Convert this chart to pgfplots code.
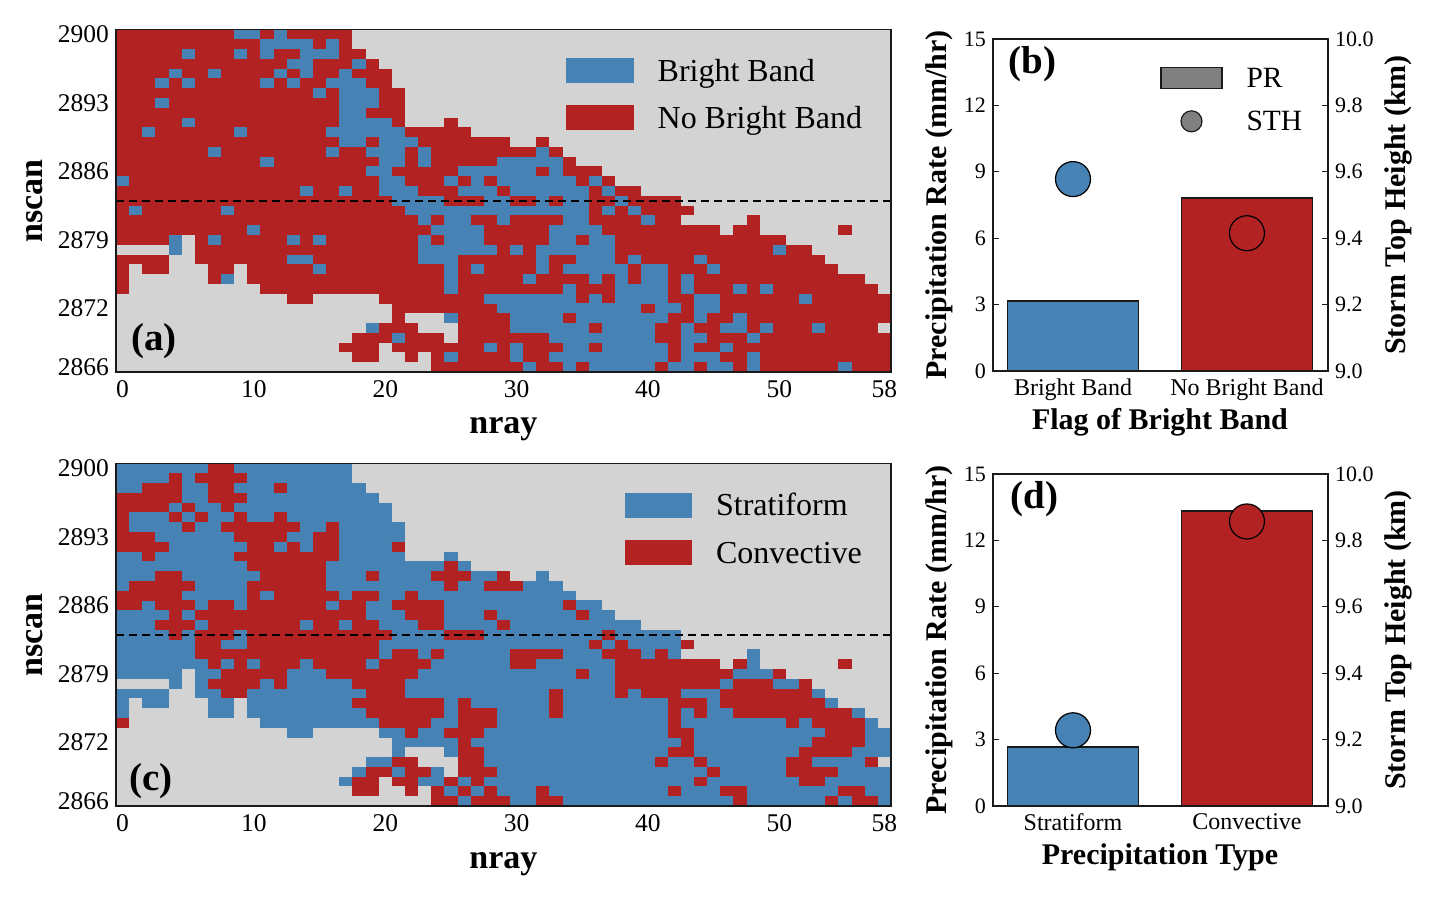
\documentclass[border=0pt]{standalone}
\usepackage{fontspec}
\usepackage{pgfplots}
\usepackage{pgfplotstable}
\pgfplotsset{compat=1.18}
\setmainfont{Liberation Serif}
\definecolor{sb}{HTML}{4682B4}
\definecolor{fb}{HTML}{B22222}
\definecolor{lg}{HTML}{D3D3D3}
\definecolor{fr}{HTML}{1A1A1A}
\newcommand{\fs}[1]{\fontsize{#1}{#1}\selectfont}
% runs of cells: first nray, nscan, number of cells
\pgfplotstableread{
a y n
0 2900 18
0 2899 18
0 2898 19
0 2897 20
0 2896 21
0 2895 21
0 2894 22
0 2893 22
0 2892 22
0 2891 22
25 2891 1
0 2890 27
0 2889 30
32 2889 1
0 2888 34
0 2887 35
0 2886 37
0 2885 38
0 2884 40
0 2883 43
0 2882 44
0 2881 43
48 2881 1
0 2880 46
47 2880 2
55 2880 1
0 2879 5
6 2879 45
4 2878 1
6 2878 47
0 2877 4
6 2877 48
0 2876 1
2 2876 2
7 2876 2
10 2876 45
0 2875 1
7 2875 2
10 2875 47
0 2874 1
11 2874 47
13 2873 2
20 2873 39
21 2872 38
21 2871 1
25 2871 34
19 2870 4
26 2870 32
18 2869 7
26 2869 33
17 2868 3
21 2868 38
18 2867 2
22 2867 1
24 2867 35
24 2866 35
}\cov
\pgfplotstableread{
a y n
9 2900 2
12 2900 1
11 2899 4
16 2899 1
5 2898 1
9 2898 1
11 2898 1
14 2898 3
13 2897 2
18 2897 1
4 2896 1
7 2896 1
12 2896 1
14 2896 1
17 2896 1
3 2895 1
5 2895 1
11 2895 1
13 2895 1
16 2895 3
15 2894 1
17 2894 3
3 2893 1
17 2893 3
17 2892 2
5 2891 1
17 2891 4
2 2890 1
9 2890 1
16 2890 6
17 2889 2
20 2889 3
7 2888 1
16 2888 1
19 2888 3
23 2888 1
32 2888 1
11 2887 1
20 2887 2
23 2887 1
29 2887 5
19 2886 2
26 2886 6
33 2886 1
0 2885 1
20 2885 2
25 2885 1
27 2885 1
29 2885 6
36 2885 1
14 2884 1
17 2884 1
20 2884 3
26 2884 3
30 2884 6
37 2884 1
21 2883 4
28 2883 2
32 2883 1
34 2883 2
38 2883 1
1 2882 1
8 2882 1
22 2882 14
37 2882 1
39 2882 1
23 2881 1
25 2881 2
29 2881 1
34 2881 2
40 2881 1
10 2880 1
24 2880 4
33 2880 4
4 2879 1
7 2879 1
13 2879 1
15 2879 1
23 2879 1
25 2879 3
33 2879 2
36 2879 2
4 2878 1
23 2878 6
30 2878 1
32 2878 6
50 2878 1
13 2877 2
23 2877 3
32 2877 1
35 2877 3
39 2877 1
44 2877 1
15 2876 1
25 2876 1
27 2876 1
32 2876 1
34 2876 5
40 2876 2
45 2876 1
8 2875 1
25 2875 1
31 2875 1
36 2875 1
38 2875 1
40 2875 2
43 2875 1
25 2874 1
34 2874 1
38 2874 4
43 2874 1
47 2874 1
49 2874 1
28 2873 7
36 2873 1
38 2873 4
44 2873 2
52 2873 1
29 2872 11
41 2872 2
44 2872 2
25 2871 1
30 2871 4
35 2871 7
44 2871 1
47 2871 1
19 2870 1
30 2870 6
37 2870 4
43 2870 1
46 2870 2
49 2870 1
53 2870 1
21 2869 1
33 2869 8
43 2869 2
48 2869 1
28 2868 1
30 2868 1
34 2868 2
37 2868 5
43 2868 1
46 2868 1
25 2867 1
30 2867 1
33 2867 9
43 2867 3
48 2867 1
31 2866 1
34 2866 1
36 2866 5
42 2866 2
45 2866 2
48 2866 1
55 2866 1
}\bbrun
\pgfplotstableread{
a y n
7 2900 2
4 2899 1
6 2899 4
2 2898 3
7 2898 2
12 2898 1
0 2897 5
7 2897 3
0 2896 4
5 2896 1
8 2896 1
0 2895 1
4 2895 1
6 2895 1
9 2895 1
12 2895 1
0 2894 1
5 2894 1
8 2894 6
16 2894 1
0 2893 3
9 2893 4
15 2893 2
0 2892 4
10 2892 2
13 2892 1
15 2892 2
21 2892 1
2 2891 1
9 2891 8
10 2890 6
25 2890 1
3 2889 2
11 2889 5
19 2889 1
24 2889 3
29 2889 1
1 2888 5
10 2888 6
25 2888 1
28 2888 3
0 2887 5
10 2887 1
12 2887 5
18 2887 2
22 2887 1
0 2886 2
3 2886 3
7 2886 2
10 2886 6
17 2886 2
21 2886 4
34 2886 1
4 2885 1
6 2885 13
22 2885 3
28 2885 1
35 2885 1
3 2884 3
7 2884 7
15 2884 2
18 2884 2
23 2884 2
29 2884 1
4 2883 1
6 2883 3
10 2883 11
25 2883 3
37 2883 1
6 2882 2
10 2882 10
36 2882 1
38 2882 1
43 2882 1
6 2881 14
21 2881 2
24 2881 1
30 2881 4
37 2881 3
41 2881 1
7 2880 1
9 2880 1
11 2880 3
15 2880 4
20 2880 4
30 2880 2
38 2880 8
47 2880 1
55 2880 1
8 2879 5
16 2879 7
35 2879 1
38 2879 9
50 2879 1
7 2878 4
12 2878 1
18 2878 4
38 2878 8
47 2878 3
52 2878 1
8 2877 2
19 2877 3
33 2877 1
38 2877 1
40 2877 3
46 2877 7
18 2876 7
26 2876 1
33 2876 1
42 2876 3
46 2876 8
19 2875 6
26 2875 3
33 2875 1
42 2875 1
44 2875 1
47 2875 9
0 2874 1
20 2874 4
26 2874 3
42 2874 1
51 2874 1
53 2874 4
22 2873 1
25 2873 3
42 2873 2
54 2873 3
26 2872 1
43 2872 1
53 2872 4
26 2871 2
42 2871 2
52 2871 4
21 2870 2
26 2870 2
41 2870 1
44 2870 1
51 2870 2
57 2870 1
19 2869 2
22 2869 2
26 2869 3
45 2869 1
51 2869 4
18 2868 2
21 2868 2
25 2868 1
27 2868 1
44 2868 1
52 2868 2
18 2867 2
22 2867 1
24 2867 1
26 2867 1
28 2867 1
32 2867 1
42 2867 1
46 2867 2
55 2867 2
24 2866 2
27 2866 3
32 2866 2
47 2866 1
54 2866 1
56 2866 2
}\crun
\pgfplotsset{
  heat/.style={scale only axis, width=387.5pt, height=171.25pt,
    xmin=-0.5, xmax=58.5, ymin=2865.5, ymax=2900.5,
    axis background/.style={fill=lg}, axis on top,
    axis line style={fr, line width=0.9pt},
    major tick length=0pt,
    xtick={0,10,20,30,40,50,58}, xticklabels={0,10,20,30,40,50,58},
    ytick={2866,2872,2879,2886,2893,2900},
    yticklabels={2866,2872,2879,2886,2893,2900},
    ticklabel style={font=\fs{12.75}},
    xticklabel style={yshift=-0.5pt},
    yticklabel style={xshift=0pt},
    xlabel={nray}, ylabel={nscan},
    label style={font=\bfseries\fs{17}},
    x label style={at={(axis description cs:0.5,-0.167)},anchor=center},
    y label style={at={(axis description cs:-0.105,0.5)},anchor=center},
    legend cell align=left,
    legend image code/.code={\fill[#1] (0,-4pt) rectangle (33.25pt,8pt);},
  },
  runs/.style={forget plot, draw=none, mark=none,
    error bars/.cd, x dir=plus, x explicit, error mark=none,
    error bar style={line width=4.95pt, draw=#1}},
  dual/.style={scale only axis, width=167.5pt, height=166pt,
    xmin=-0.46, xmax=1.466, xtick={0,1},
    tick align=inside, major tick length=3pt,
    axis line style={fr, line width=0.9pt}, tick style={fr, line width=0.6pt},
    ticklabel style={font=\fs{11}},
    label style={font=\bfseries\fs{15}},
  },
  left/.style={dual, ymin=0, ymax=15, ytick={0,3,6,9,12,15},
    yticklabels={0,3,6,9,12,15}, ytick pos=left, xtick pos=bottom,
    xticklabel style={font=\fs{12}, yshift=-0.5pt},
    x label style={at={(axis description cs:0.4985,-0.154)},anchor=center},
    ylabel={Precipitation Rate (mm/hr)},
    y label style={at={(axis description cs:-0.1595,0.5)},anchor=center},
  },
  right/.style={dual, ymin=9, ymax=10, ytick={9,9.2,9.4,9.6,9.8,10},
    yticklabels={9.0,9.2,9.4,9.6,9.8,10.0}, ytick pos=right, xtick=\empty,
    axis line style={draw=none}, axis y line*=right,
    ylabel={Storm Top Height (km)},
    y label style={at={(axis description cs:1.209,0.5)},anchor=center},
  },
  barp/.style={ybar, bar shift=0pt, bar width=0.753, draw=fr, line width=0.9pt, fill=#1},
  sth/.style={only marks, mark=*, mark size=8.75pt, mark options={fill=#1, draw=black, line width=0.6pt}},
}
\begin{document}
\begin{tikzpicture}
\useasboundingbox (0,0) rectangle (718.5pt,450pt);
% (a)
\begin{axis}[heat, at={(58pt,264pt)},
  legend style={at={(0.5806,0.9165)}, anchor=north west, draw=none, fill=none, inner sep=0pt,
    font=\fs{16}, row sep=7.75pt, column sep=12pt, nodes={inner sep=0pt, text height=11pt, text depth=4pt}}]
\addplot[runs=fb] table[x expr=\thisrow{a}-0.5, y=y, x error=n] {\cov};
\addplot[runs=sb] table[x expr=\thisrow{a}-0.5, y=y, x error=n] {\bbrun};
\addplot[forget plot, black, line width=0.9pt, dash pattern=on 4pt off 2.5pt] coordinates {(-0.5,2883) (58.5,2883)};
\addlegendimage{sb}\addlegendentry{Bright Band}
\addlegendimage{fb}\addlegendentry{No Bright Band}
\node[font=\bfseries\fs{19.5}] at (rel axis cs:0.049,0.090) {(a)};
\end{axis}
% (c)
\begin{axis}[heat, at={(58pt,47pt)},
  x label style={at={(axis description cs:0.5,-0.171)},anchor=center},
  legend style={at={(0.656,0.9165)}, anchor=north west, draw=none, fill=none, inner sep=0pt,
    font=\fs{16}, row sep=8pt, column sep=12pt, nodes={inner sep=0pt, text height=11pt, text depth=4pt}}]
\addplot[runs=sb] table[x expr=\thisrow{a}-0.5, y=y, x error=n] {\cov};
\addplot[runs=fb] table[x expr=\thisrow{a}-0.5, y=y, x error=n] {\crun};
\addplot[forget plot, black, line width=0.9pt, dash pattern=on 4pt off 2.5pt] coordinates {(-0.5,2883) (58.5,2883)};
\addlegendimage{sb}\addlegendentry{Stratiform}
\addlegendimage{fb}\addlegendentry{Convective}
\node[font=\bfseries\fs{19.5}] at (rel axis cs:0.0452,0.073) {(c)};
\end{axis}
% (b)
\begin{axis}[left, at={(496.5pt,264.5pt)}, xticklabels={Bright Band,No Bright Band}, xlabel={Flag of Bright Band}]
\addplot[barp=sb] coordinates {(0,3.18)};
\addplot[barp=fb] coordinates {(1,7.81)};
\node[font=\bfseries\fs{19.5}] at (rel axis cs:0.118,0.925) {(b)};
\end{axis}
\begin{axis}[right, at={(496.5pt,264.5pt)}, legend cell align=left,
  legend style={at={(0.4985,0.918)}, anchor=north west, draw=none, fill=none, inner sep=0pt,
    font=\fs{14.7}, row sep=8pt, column sep=12pt, nodes={inner sep=0pt, text height=10pt, text depth=3.5pt}}]
\addplot[sth=sb, forget plot] coordinates {(0,9.578)};
\addplot[sth=fb, forget plot] coordinates {(1,9.415)};
\addlegendimage{legend image code/.code={\draw[fill=gray, draw=fr, line width=0.6pt] (0,-3.75pt) rectangle (30.5pt,6.75pt);}}
\addlegendentry{PR}
\addlegendimage{legend image code/.code={\draw[fill=gray, draw=fr, line width=0.6pt] (15.25pt,1.5pt) circle (5.25pt);}}
\addlegendentry{STH}
\end{axis}
% (d)
\begin{axis}[left, at={(496.5pt,47pt)}, xticklabels={Stratiform,Convective}, xlabel={Precipitation Type}]
\addplot[barp=sb] coordinates {(0,2.68)};
\addplot[barp=fb] coordinates {(1,13.34)};
\node[font=\bfseries\fs{19.5}] at (rel axis cs:0.124,0.925) {(d)};
\end{axis}
\begin{axis}[right, at={(496.5pt,47pt)}]
\addplot[sth=sb] coordinates {(0,9.228)};
\addplot[sth=fb] coordinates {(1,9.857)};
\end{axis}
\end{tikzpicture}
\end{document}
